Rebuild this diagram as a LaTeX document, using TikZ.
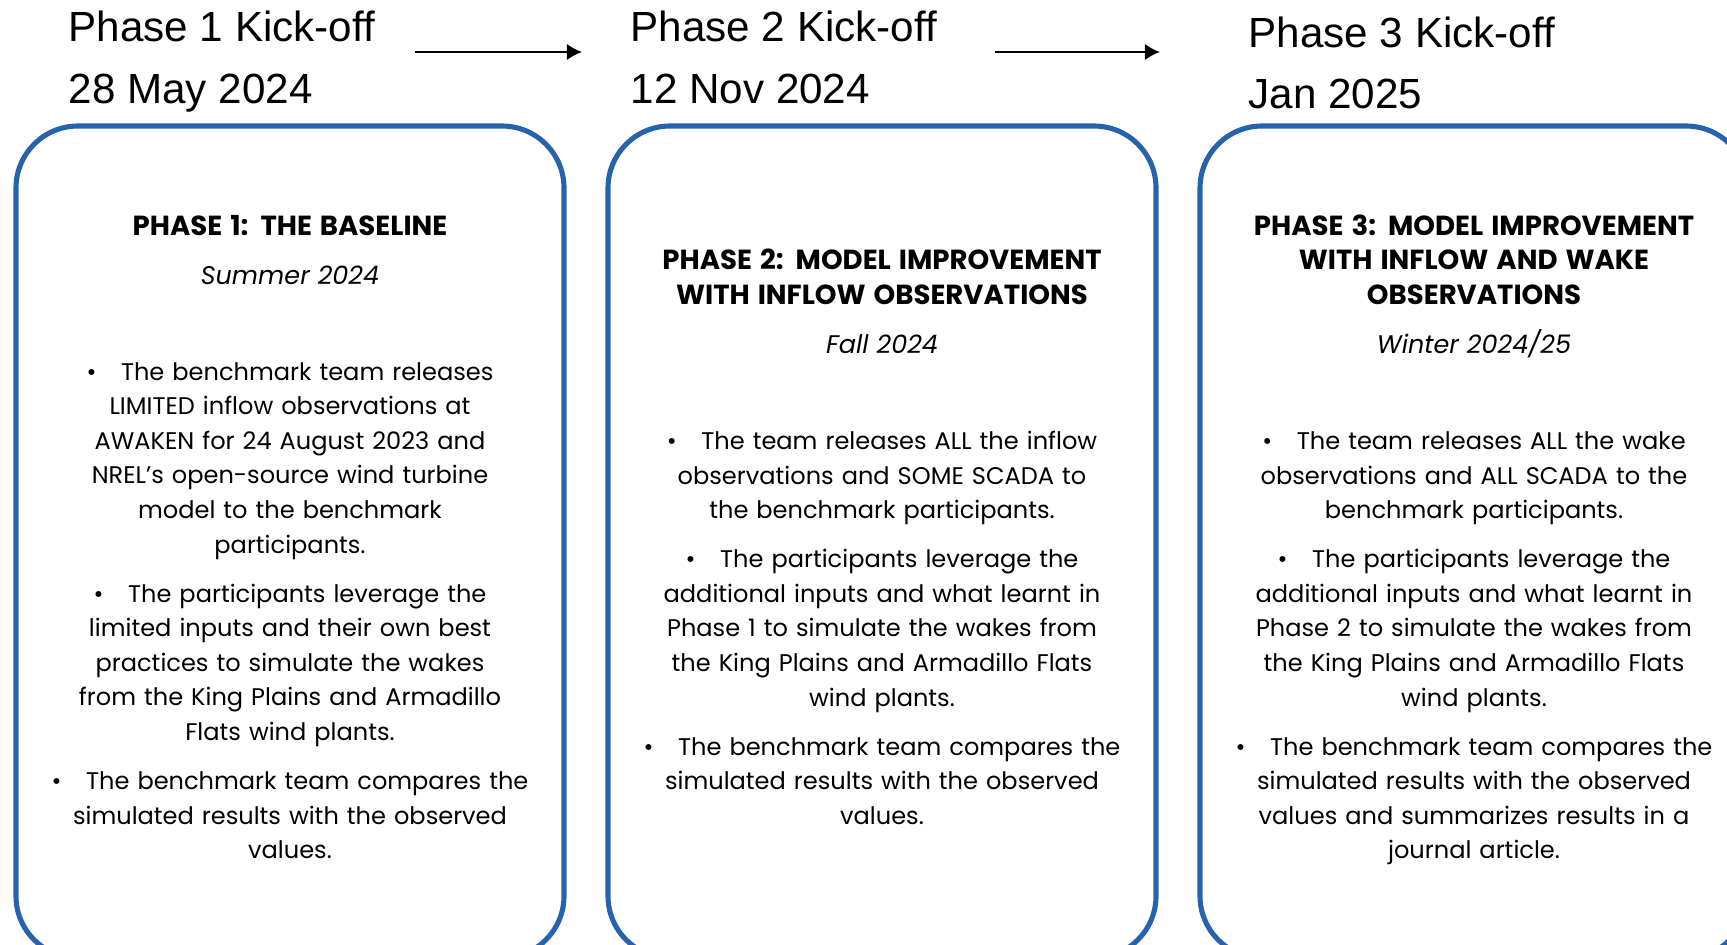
\documentclass[tikz,border=0pt]{standalone}
\usepackage{fontspec}
\setmainfont{Poppins}
\newfontfamily\headfont{Liberation Sans}
\usetikzlibrary{arrows.meta, positioning}
\definecolor{phaseblue}{HTML}{2862AD}
\newcommand{\bul}{\textbullet\hspace{7pt}}
\newcommand{\ptitle}[1]{{\fontsize{7.85}{9.84}\selectfont\textbf{#1}}}
\newcommand{\pseason}[1]{{\fontsize{7.25}{9.84}\selectfont\textit{#1}}}

\begin{document}
\begin{tikzpicture}[
  phasebox/.style={draw=phaseblue, line width=1.45pt, rounded corners=0.62cm,
    minimum width=5.48cm, minimum height=8.32cm, inner sep=0pt},
  phasetext/.style={text width=5.3cm, align=center, inner sep=0pt,
    font=\fontsize{6.85}{9.84}\selectfont},
  kickoff/.style={anchor=base west, inner sep=0pt,
    font=\headfont\fontsize{12}{14}\selectfont},
  arr/.style={-{Latex[length=4.3pt,width=4.6pt]}, line width=0.5pt}
]
\useasboundingbox (0,0) rectangle (17.27,-9.44);
\clip (0,0) rectangle (17.27,-9.44);

% Kick-off dates
\node[kickoff] (kick1) at (0.68,-0.41) {Phase 1 Kick-off};
\node[kickoff] (date1) at (0.68,-1.03) {28 May 2024};
\node[kickoff] (kick2) at (6.30,-0.41) {Phase 2 Kick-off};
\node[kickoff] (date2) at (6.30,-1.03) {12 Nov 2024};
\node[kickoff] (kick3) at (12.48,-0.48) {Phase 3 Kick-off};
\node[kickoff] (date3) at (12.48,-1.08) {Jan 2025};

% Arrows between kick-offs
\coordinate (a1) at (4.15,-0.52);
\coordinate (b1) at (5.82,-0.52);
\coordinate (a2) at (9.95,-0.52);
\coordinate (b2) at (11.60,-0.52);
\draw[arr] (a1) -- (b1);
\draw[arr] (a2) -- (b2);

% Phase boxes
\node[phasebox] (box1) at (2.90,-5.42) {};
\node[phasebox] (box2) at (8.82,-5.42) {};
\node[phasebox] (box3) at (14.74,-5.42) {};

% Phase 1
\node[phasetext] (txt1) at (box1.center) {%
  \ptitle{PHASE 1: THE BASELINE}\\[4.1pt]
  \pseason{Summer 2024}\\[17.5pt]
  \bul The benchmark team releases\\
  LIMITED inflow observations at\\
  AWAKEN for 24 August 2023 and\\
  NREL’s open-source wind turbine\\
  model to the benchmark\\
  participants.\\[4.1pt]
  \bul The participants leverage the\\
  limited inputs and their own best\\
  practices to simulate the wakes\\
  from the King Plains and Armadillo\\
  Flats wind plants.\\[4.1pt]
  \bul The benchmark team compares the\\
  simulated results with the observed\\
  values.\strut};

% Phase 2
\node[phasetext] (txt2) at (box2.center) {%
  \ptitle{PHASE 2: MODEL IMPROVEMENT}\\
  \ptitle{WITH INFLOW OBSERVATIONS}\\[4.1pt]
  \pseason{Fall 2024}\\[17.5pt]
  \bul The team releases ALL the inflow\\
  observations and SOME SCADA to\\
  the benchmark participants.\\[4.1pt]
  \bul The participants leverage the\\
  additional inputs and what learnt in\\
  Phase 1 to simulate the wakes from\\
  the King Plains and Armadillo Flats\\
  wind plants.\\[4.1pt]
  \bul The benchmark team compares the\\
  simulated results with the observed\\
  values.\strut};

% Phase 3
\node[phasetext] (txt3) at (box3.center) {%
  \ptitle{PHASE 3: MODEL IMPROVEMENT}\\
  \ptitle{WITH INFLOW AND WAKE}\\
  \ptitle{OBSERVATIONS}\\[4.1pt]
  \pseason{Winter 2024/25}\\[17.5pt]
  \bul The team releases ALL the wake\\
  observations and ALL SCADA to the\\
  benchmark participants.\\[4.1pt]
  \bul The participants leverage the\\
  additional inputs and what learnt in\\
  Phase 2 to simulate the wakes from\\
  the King Plains and Armadillo Flats\\
  wind plants.\\[4.1pt]
  \bul The benchmark team compares the\\
  simulated results with the observed\\
  values and summarizes results in a\\
  journal article.\strut};
\end{tikzpicture}
\end{document}
